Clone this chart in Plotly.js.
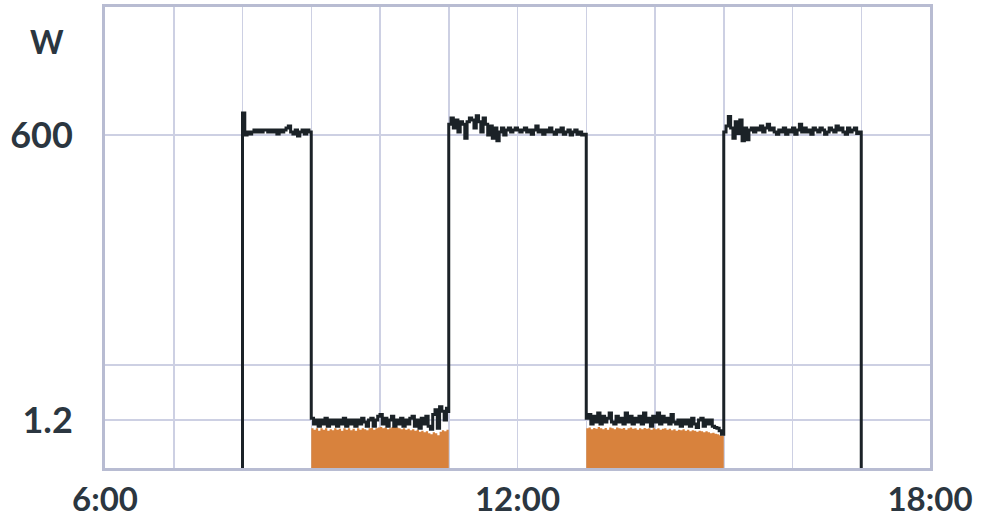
<!DOCTYPE html>
<html>
<head>
<meta charset="utf-8">
<script src="https://cdn.plot.ly/plotly-3.0.1.min.js"></script>
<style>
  html, body { margin: 0; padding: 0; background: #ffffff; }
  #chart { width: 983px; height: 517px; }
</style>
</head>
<body>
<div id="chart"></div>
<script>
// ---- data (W), sampled every 2 minutes ----
const day = '2024-01-01';
const sampleMinutes = 2;
const offLevel = 0.1;            // appliance switched off (below axis)
const switchOnTime = '08:00';
const switchOffTime = '17:00';

const onMorningStart = '08:00';
const onMorning = [969, 600, 641, 613, 641, 669, 641, 669, 641, 669, 669, 641, 669, 641, 669, 613,
  669, 641, 669, 699, 730, 641, 613, 669, 587, 641, 669, 613, 669, 641, 600];

const standbyMorningStart = '09:00';
const standbyMorning = [1.25, 1.1, 1.2, 1.05, 1.2, 1.1, 1.25, 1.05, 1.2, 1.1, 1.2, 1.05, 1.2, 1.1, 1.25,
  1.05, 1.2, 1.1, 1.2, 1.05, 1.2, 1.1, 1.25, 1.15, 1.05, 1.2, 1.25, 1.05, 1.2, 1.3, 1.35, 1.1, 1.25, 1.05,
  1.2, 1.3, 1.05, 1.2, 1.1, 1.25, 1.05, 1.2, 1.1, 1.25, 1.3, 1.05, 1.2, 1.0, 1.25, 1.1, 1.3, 1.05, 0.98,
  1.35, 1.5, 1.0, 1.6, 1.45, 1.2, 1.55, 1.4];

const onMiddayStart = '11:00';
const onMidday = [760, 870, 700, 830, 640, 800, 760, 560, 800, 870, 830, 700, 910, 800, 640, 870, 760,
  600, 730, 560, 700, 530, 640, 700, 600, 670, 700, 640, 670, 700, 670, 640, 670, 700, 640, 670, 610,
  670, 730, 640, 670, 610, 670, 640, 700, 640, 610, 670, 640, 700, 610, 640, 670, 600, 640, 670, 610,
  640, 600, 610, 560];

const standbyAfternoonStart = '13:00';
const standbyAfternoon = [1.25, 1.35, 1.1, 1.3, 1.15, 1.4, 1.1, 1.3, 1.15, 1.25, 1.4, 1.15, 1.1, 1.3,
  1.15, 1.25, 1.1, 1.4, 1.15, 1.3, 1.1, 1.25, 1.15, 1.3, 1.1, 1.4, 1.15, 1.25, 1.05, 1.3, 1.15, 1.4, 1.1,
  1.3, 1.15, 1.25, 1.1, 1.35, 1.15, 1.1, 1.2, 1.05, 1.2, 1.1, 1.2, 1.05, 1.25, 1.1, 1.02, 1.2, 1.25,
  1.05, 1.2, 1.1, 1.2, 1.05, 1.02, 1.0, 0.95, 0.88, 0.85];

const onAfternoonStart = '15:00';
const onAfternoon = [640, 730, 900, 700, 560, 800, 620, 830, 530, 700, 540, 670, 700, 640, 700, 670,
  730, 640, 700, 760, 670, 700, 640, 610, 670, 640, 700, 610, 670, 640, 700, 610, 670, 760, 640, 700,
  640, 670, 610, 700, 670, 640, 700, 670, 610, 640, 700, 670, 640, 730, 670, 700, 640, 610, 700, 640,
  670, 700, 620, 640, 600];

// orange (standby consumption area)
const feedMorning = [1.0, 0.97, 1.0, 0.95, 1.0, 0.97, 1.0, 0.95, 0.98, 0.96, 1.0, 0.97, 0.99, 0.95,
  1.0, 0.97, 1.0, 0.96, 0.99, 0.95, 1.0, 0.97, 1.0, 0.98, 0.96, 1.0, 1.01, 0.97, 1.0, 1.02, 1.03, 1.0,
  1.02, 0.98, 1.0, 1.03, 1.05, 1.02, 1.0, 0.98, 1.0, 0.97, 0.99, 0.96, 0.98, 0.95, 0.97, 0.93, 0.95,
  0.92, 0.94, 0.9, 0.88, 0.92, 0.9, 0.86, 0.93, 0.96, 0.94, 0.97, 0.97];
const feedAfternoon = [1.0, 1.02, 0.98, 1.01, 0.99, 1.03, 1.0, 0.98, 1.01, 0.97, 1.02, 1.0, 0.98, 1.02,
  1.0, 0.99, 1.01, 0.97, 1.0, 1.02, 0.99, 1.0, 0.97, 1.0, 0.98, 1.01, 0.99, 1.0, 0.97, 1.0, 0.98, 1.0,
  0.97, 0.99, 1.0, 0.97, 0.99, 0.96, 0.98, 0.95, 0.97, 0.96, 0.98, 0.95, 0.97, 0.94, 0.96, 0.95, 0.93,
  0.95, 0.94, 0.92, 0.94, 0.92, 0.9, 0.91, 0.89, 0.88, 0.86, 0.85, 0.84];

// axis ticks
const xTickTimes = ['06:00','07:00','08:00','09:00','10:00','11:00','12:00','13:00','14:00','15:00','16:00','17:00','18:00'];
const xTickLabels = ['6:00','','','','','','12:00','','','','','','18:00'];
const yTickVals = [1.2, 4, 600];
const yTickText = ['1.2', '', '600'];
const yUnit = 'W';

// ---- helpers ----
function stamp(hhmm) { return day + ' ' + hhmm; }
function times(start, n) {
  const p = start.split(':').map(Number);
  const out = [];
  for (let i = 0; i < n; i++) {
    const t = p[0] * 60 + p[1] + i * sampleMinutes;
    out.push(day + ' ' + String(Math.floor(t / 60)).padStart(2, '0') + ':' + String(t % 60).padStart(2, '0'));
  }
  return out;
}

const segs = [
  [onMorningStart, onMorning],
  [standbyMorningStart, standbyMorning],
  [onMiddayStart, onMidday],
  [standbyAfternoonStart, standbyAfternoon],
  [onAfternoonStart, onAfternoon]
];
let px = [stamp(switchOnTime)], py = [offLevel];
segs.forEach(s => { px = px.concat(times(s[0], s[1].length)); py = py.concat(s[1]); });
px.push(stamp(switchOffTime)); py.push(offLevel);

const orange = '#d8823d';
const ink = '#1b2227';
const textCol = '#2b3640';
const gridCol = '#cdd0e3';
const frameCol = '#b8bcd2';
const fontFam = 'Lato, "Open Sans", sans-serif';

const traces = [
  { x: times(standbyMorningStart, feedMorning.length), y: feedMorning, type: 'scatter', mode: 'lines',
    fill: 'tozeroy', fillcolor: orange, line: { width: 0, color: orange, shape: 'hv' }, hoverinfo: 'skip' },
  { x: times(standbyAfternoonStart, feedAfternoon.length), y: feedAfternoon, type: 'scatter', mode: 'lines',
    fill: 'tozeroy', fillcolor: orange, line: { width: 0, color: orange, shape: 'hv' }, hoverinfo: 'skip' },
  { x: px, y: py, type: 'scatter', mode: 'lines', line: { color: ink, width: 3, shape: 'hv' } }
];

const layout = {
  width: 983, height: 517,
  margin: { l: 105, r: 53, t: 7, b: 49 },
  paper_bgcolor: '#ffffff', plot_bgcolor: '#ffffff',
  showlegend: false,
  xaxis: {
    type: 'date', range: [stamp('06:00'), stamp('18:00')],
    tickmode: 'array', tickvals: xTickTimes.map(stamp), ticktext: xTickLabels,
    showgrid: true, gridcolor: gridCol, gridwidth: 1.5,
    showline: true, mirror: true, linecolor: frameCol, linewidth: 3,
    zeroline: false, ticks: '', ticklabelstandoff: 0,
    tickfont: { family: fontFam, size: 33, color: textCol, weight: 'bold' }
  },
  yaxis: {
    type: 'log', range: [-0.3753, 3.990],
    tickmode: 'array', tickvals: yTickVals, ticktext: yTickText,
    showgrid: true, gridcolor: gridCol, gridwidth: 1.5,
    showline: true, mirror: true, linecolor: frameCol, linewidth: 3,
    zeroline: false, ticks: '', ticklabelstandoff: 22,
    tickfont: { family: fontFam, size: 36, color: textCol, weight: 'bold' }
  },
  annotations: [{
    text: yUnit, xref: 'paper', yref: 'paper', x: -0.0703, y: 0.925,
    xanchor: 'center', yanchor: 'middle', showarrow: false,
    font: { family: fontFam, size: 32, color: textCol, weight: 'bold' }
  }]
};

Plotly.newPlot('chart', traces, layout, { displayModeBar: false, staticPlot: true });
</script>
</body>
</html>
